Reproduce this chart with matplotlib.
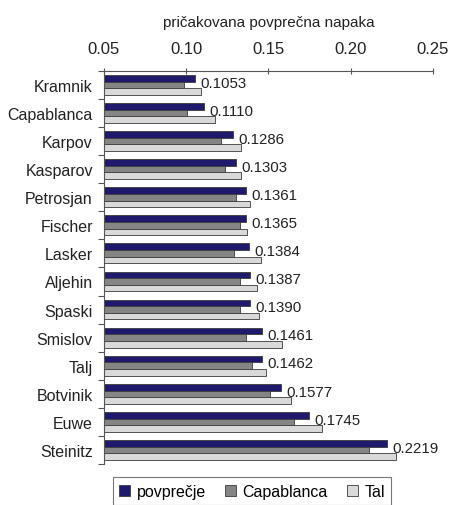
import matplotlib.pyplot as plt
import numpy as np

plt.rcParams['font.family'] = ['Liberation Sans', 'DejaVu Sans']

players = ['Kramnik', 'Capablanca', 'Karpov', 'Kasparov', 'Petrosjan', 'Fischer',
           'Lasker', 'Aljehin', 'Spaski', 'Smislov', 'Talj', 'Botvinik', 'Euwe', 'Steinitz']
povprecje = [0.1053, 0.1110, 0.1286, 0.1303, 0.1361, 0.1365, 0.1384,
             0.1387, 0.1390, 0.1461, 0.1462, 0.1577, 0.1745, 0.2219]
capablanca = [0.0987, 0.1007, 0.1213, 0.1239, 0.1300, 0.1328, 0.1290,
              0.1328, 0.1328, 0.1361, 0.1401, 0.1510, 0.1653, 0.2112]
tal = [0.1092, 0.1177, 0.1332, 0.1332, 0.1391, 0.1367, 0.1453,
       0.1429, 0.1441, 0.1583, 0.1486, 0.1638, 0.1825, 0.2274]

series = [('povprečje', povprecje, '#1f1a6b'),
          ('Capablanca', capablanca, '#858585'),
          ('Tal', tal, '#d9d9d9')]

fig = plt.figure(figsize=(4.5, 5.06), dpi=100)
ax = fig.add_axes([0.231, 0.081, 0.731, 0.777])

y = np.arange(len(players))
h = 0.235
base = 0.05
for k, (name, vals, col) in enumerate(series):
    vals = np.array(vals)
    ax.barh(y + (k - 1) * h, vals - base, left=base, height=h, color=col,
            edgecolor='#3a3a3a', linewidth=0.6, label=name)

# value labels next to the average bars
for i, v in enumerate(povprecje):
    ax.text(v + 0.0033, y[i] - 0.08, f'{v:.4f}', va='center', ha='left',
            fontsize=10.8, color='#222222')

ax.set_xlim(0.05, 0.25)
ax.set_ylim(len(players) - 0.5, -0.5)
ax.set_xticks([0.05, 0.10, 0.15, 0.20, 0.25])
ax.set_xticklabels(['0.05', '0.10', '0.15', '0.20', '0.25'])
ax.xaxis.tick_top()
ax.xaxis.set_label_position('top')
ax.set_xlabel('pričakovana povprečna napaka', fontsize=11, labelpad=11, color='#222222')
ax.tick_params(axis='x', direction='inout', length=5, width=0.8, color='#555555',
               labelsize=12, pad=8, labelcolor='#222222')

ax.set_yticks(y)
ax.set_yticklabels(players)
ax.set_yticks(np.arange(len(players) + 1) - 0.5, minor=True)
ax.tick_params(axis='y', which='major', length=0, pad=8, labelsize=11.5,
               labelcolor='#222222')
ax.tick_params(axis='y', which='minor', length=4, width=0.8, color='#555555')

for s in ['right', 'bottom']:
    ax.spines[s].set_visible(False)
for s in ['top', 'left']:
    ax.spines[s].set_color('#555555')
    ax.spines[s].set_linewidth(0.8)

leg = fig.legend(loc='lower center', bbox_to_anchor=(0.56, -0.016), ncol=3,
                 fontsize=11.5, frameon=True, fancybox=False, handlelength=0.7,
                 handleheight=0.7, handletextpad=0.4, columnspacing=1.2,
                 borderpad=0.4)
leg.get_frame().set_edgecolor('#555555')
leg.get_frame().set_linewidth(0.8)

fig.savefig('out.png', dpi=100)
